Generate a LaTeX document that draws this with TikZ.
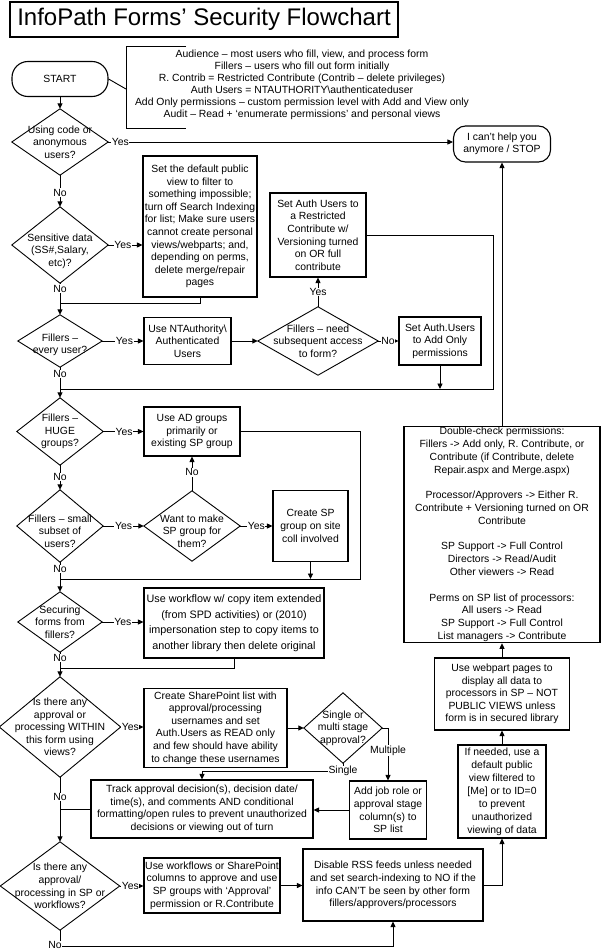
\documentclass[tikz,border=0pt]{standalone}
\usepackage{fontspec}
\setmainfont{Liberation Sans}
\usetikzlibrary{arrows.meta}
\newcommand\fs{\fontsize{10.4}{12.6}\selectfont}
\newcommand\drawdia[1]{\draw[dline] (#1.north) -- (#1.east) -- (#1.south) -- (#1.west) -- cycle;}
\begin{document}
\begin{tikzpicture}[x=1pt,y=-1pt,
  ln/.style={line width=0.9pt},
  arr/.style={line width=0.9pt,-{Triangle[length=5.5pt,width=5pt]}},
  dline/.style={line width=0.9pt},
  bx/.style={draw,line width=1.1pt,align=center,inner sep=1pt,font=\fs},
  dtext/.style={align=center,inner sep=0pt,font=\fs},
  lbl/.style={fill=white,inner sep=0.6pt,font=\fs}]
\useasboundingbox (0,0) rectangle (602,950);

% title
\node[bx,minimum width=388pt,minimum height=35pt,font=\fontsize{24}{28}\selectfont] (title) at (204,19.5) {InfoPath Forms’ Security Flowchart};

% start and legend
\node[bx,rounded corners=16pt,minimum width=96pt,minimum height=35pt] (start) at (60,79) {START};
\coordinate (lgA) at (186,46);
\coordinate (lgB) at (126,46);
\coordinate (lgC) at (126,128);
\coordinate (lgD) at (186,128);
\coordinate (lgM) at (126,89);
\draw[ln] (lgA) -- (lgB) -- (lgC) -- (lgD);
\draw[ln] (start.east) -- (lgM);
\node[dtext,font=\fontsize{10.4}{12}\selectfont] (legend) at (302,85) {Audience – most users who fill, view, and process form\\Fillers – users who fill out form initially\\R. Contrib = Restricted Contribute (Contrib – delete privileges)\\Auth Users = NTAUTHORITY\textbackslash authenticateduser\\Add Only permissions – custom permission level with Add and View only\\Audit – Read + ‘enumerate permissions’ and personal views};

% diamonds
\node[dtext,minimum width=96pt,minimum height=66pt] (d1) at (60,142) {Using code or\\anonymous\\users?};
\node[dtext,minimum width=96pt,minimum height=76pt] (d2) at (60,245) {};
\node[dtext,yshift=-6pt] (d2t) at (d2.center) {Sensitive data\\(SS\#,Salary,\\etc)?};
\node[dtext,minimum width=84pt,minimum height=52pt] (d3) at (60,341) {};
\node[dtext,yshift=-4pt] (d3t) at (d3.center) {Fillers –\\every user?};
\node[dtext,minimum width=120pt,minimum height=68pt] (d4) at (318,341) {Fillers – need\\subsequent access\\to form?};
\node[dtext,minimum width=86pt,minimum height=67pt] (d5) at (60,431.5) {Fillers –\\HUGE\\groups?};
\node[dtext,minimum width=86pt,minimum height=72pt] (d6) at (60,526) {};
\node[dtext,yshift=-5pt] (d6t) at (d6.center) {Fillers – small\\subset of\\users?};
\node[dtext,minimum width=96pt,minimum height=70pt] (d7) at (192,526) {};
\node[dtext,yshift=-5pt] (d7t) at (d7.center) {Want to make\\SP group for\\them?};
\node[dtext,minimum width=84pt,minimum height=60pt] (d8) at (60,622) {Securing\\forms from\\fillers?};
\node[dtext,minimum width=121pt,minimum height=100pt] (d9) at (60,727) {Is there any\\approval or\\processing WITHIN\\this form using\\views?};
\node[dtext,minimum width=78pt,minimum height=70pt] (d10) at (343,728) {Single or\\multi stage\\approval?};
\node[dtext,minimum width=119pt,minimum height=88pt] (d11) at (60,886) {Is there any\\approval/\\processing in SP or\\workflows?};
\foreach \d in {d1,d2,d3,d4,d5,d6,d7,d8,d9,d10,d11} {\drawdia{\d}}

% boxes
\node[bx,rounded corners=12pt,minimum width=97pt,minimum height=36pt] (stop) at (502,144) {I can’t help you\\anymore / STOP};
\node[bx,minimum width=114pt,minimum height=141pt] (b1) at (200,226.5) {Set the default public\\view to filter to\\something impossible;\\turn off Search Indexing\\for list; Make sure users\\cannot create personal\\views/webparts; and,\\depending on perms,\\delete merge/repair\\pages};
\node[bx,minimum width=87pt,minimum height=47pt] (b2) at (187.5,341) {Use NTAuthority\textbackslash\\Authenticated\\Users};
\node[bx,minimum width=96pt,minimum height=84pt] (b3) at (318,235) {Set Auth Users to\\a Restricted\\Contribute w/\\Versioning turned\\on OR full\\contribute};
\node[bx,minimum width=82pt,minimum height=48pt] (b4) at (440,341) {Set Auth.Users\\to Add Only\\permissions};
\node[bx,minimum width=96pt,minimum height=49pt] (b5) at (192,431.5) {Use AD groups\\primarily or\\existing SP group};
\node[bx,minimum width=75pt,minimum height=71pt] (b6) at (310.5,526) {Create SP\\group on site\\coll involved};
\node[bx,minimum width=180pt,minimum height=70pt,font=\fontsize{10.8}{15.5}\selectfont] (b7) at (234,623) {Use workflow w/ copy item extended\\(from SPD activities) or (2010)\\impersonation step to copy items to\\another library then delete original};
\node[bx,minimum width=143pt,minimum height=79pt] (b8) at (215.5,728) {Create SharePoint list with\\approval/processing\\usernames and set\\Auth.Users as READ only\\and few should have ability\\to change these usernames};
\node[bx,minimum width=77pt,minimum height=58pt] (b9) at (388,810) {Add job role or\\approval stage\\column(s) to\\SP list};
\node[bx,minimum width=222pt,minimum height=58pt] (b10) at (202,809) {Track approval decision(s), decision date/\\time(s), and comments AND conditional\\formatting/open rules to prevent unauthorized\\decisions or viewing out of turn};
\node[bx,minimum width=136pt,minimum height=55pt] (b11) at (212,885.5) {Use workflows or SharePoint\\columns to approve and use\\SP groups with ‘Approval’\\permission or R.Contribute};
\node[bx,minimum width=180pt,minimum height=72pt] (b12) at (393,885) {Disable RSS feeds unless needed\\and set search-indexing to NO if the\\info CAN’T be seen by other form\\fillers/approvers/processors};
\node[bx,minimum width=88pt,minimum height=93pt,font=\fontsize{10.4}{13}\selectfont] (b13) at (502,791.5) {If needed, use a\\default public\\view filtered to\\{}[Me] or to ID=0\\to prevent\\unauthorized\\viewing of data};
\node[bx,minimum width=135pt,minimum height=72pt] (b14) at (502,694) {Use webpart pages to\\display all data to\\processors in SP – NOT\\PUBLIC VIEWS unless\\form is in secured library};
\node[bx,minimum width=196pt,minimum height=215pt,font=\fontsize{10.4}{12.8}\selectfont] (b15) at (502,534.5) {Double-check permissions:\\Fillers -> Add only, R. Contribute, or\\Contribute (if Contribute, delete\\Repair.aspx and Merge.aspx)\\[12.8pt]Processor/Approvers -> Either R.\\Contribute + Versioning turned on OR\\Contribute\\[12.8pt]SP Support -> Full Control\\Directors -> Read/Audit\\Other viewers -> Read\\[12.8pt]Perms on SP list of processors:\\All users -> Read\\SP Support -> Full Control\\List managers -> Contribute};

% junction points
\coordinate (j1) at (60,303);
\coordinate (j2) at (493,389);
\coordinate (j3) at (60,389);
\coordinate (j4) at (360,579);
\coordinate (j5) at (60,579);
\coordinate (j6) at (60,668);
\coordinate (j8) at (343,771);
\coordinate (bot) at (0,946);

% connectors
\draw[arr] (start.south) -- (d1.north);
\draw[arr] (d1.east) -- node[lbl,pos=0.035] (l1) {Yes} (d1.east -| stop.west);
\draw[arr] (d1.south) -- node[lbl,pos=0.55] (l2) {No} (d2.north);
\draw[arr] (d2.east) -- node[lbl,pos=0.43] (l3) {Yes} (d2.east -| b1.west);
\draw[ln] (b1.south) |- (j1);
\draw[arr] (d2.south) -- node[lbl,pos=0.17] (l4) {No} (d3.north);
\draw[arr] (d3.east) -- node[lbl,pos=0.54] (l5) {Yes} (b2.west);
\draw[arr] (b2.east) -- (d4.west);
\draw[arr] (d4.north) -- node[lbl,pos=0.5] (l6) {Yes} (b3.south);
\draw[arr] (d4.east) -- node[lbl,pos=0.48] (l7) {No} (b4.west);
\draw[ln] (b3.east) -| (j2) -- (j3);
\draw[arr] (b4.south) -- (b4.south |- j2);
\draw[arr] (d3.south) -- node[lbl,pos=0.23] (l8) {No} (d5.north);
\draw[arr] (d5.east) -- node[lbl,pos=0.52] (l9) {Yes} (d5.east -| b5.west);
\draw[ln] (b5.east) -| (j4) -- (j5);
\draw[arr] (d5.south) -- node[lbl,pos=0.48] (l10) {No} (d6.north);
\draw[arr] (d6.east) -- node[lbl,pos=0.5] (l11) {Yes} (d7.west);
\draw[arr] (d7.north) -- node[lbl,pos=0.54] (l12) {No} (b5.south);
\draw[arr] (d7.east) -- node[lbl,pos=0.5] (l13) {Yes} (d7.east -| b6.west);
\draw[arr] (b6.south) -- (b6.south |- j4);
\draw[arr] (d6.south) -- node[lbl,pos=0.23] (l14) {No} (d8.north);
\draw[arr] (d8.east) -- node[lbl,pos=0.5] (l15) {Yes} (d8.east -| b7.west);
\draw[ln] (b7.south) |- (j6);
\draw[arr] (d8.south) -- node[lbl,pos=0.24] (l16) {No} (d9.north);
\draw[arr] (d9.east) -- node[lbl,pos=0.42] (l17) {Yes} (d9.east -| b8.west);
\draw[arr] (b8.east) -- (b8.east -| d10.west);
\draw[arr] (d10.east) -| node[lbl,pos=0.717] (l18) {Multiple} (b9.north);
\draw[arr] (d10.south) -- (j8) -| (b10.north);
\node[lbl] (l19) at (j8) {Single};
\draw[arr] (b9.west) -- (b9.west -| b10.east);
\draw[ln] (b10.west) -- (b10.west -| d9.south);
\draw[arr] (d9.south) -- node[lbl,pos=0.31] (l20) {No} (d11.north);
\draw[arr] (d11.east) -- node[lbl,pos=0.45] (l21) {Yes} (d11.east -| b11.west);
\draw[arr] (b11.east) -- (b11.east -| b12.west);
\draw[arr] (d11.south) |- (b12.south |- bot) -- (b12.south);
\node[lbl,xshift=-5pt,yshift=1pt] (l22) at (d11.south |- bot) {No};
\draw[arr] (b12.east) -| (b13.south);
\draw[arr] (b13.north) -- (b14.south);
\draw[arr] (b14.north) -- (b15.south);
\draw[arr] (b15.north) -- (stop.south);
\end{tikzpicture}
\end{document}
